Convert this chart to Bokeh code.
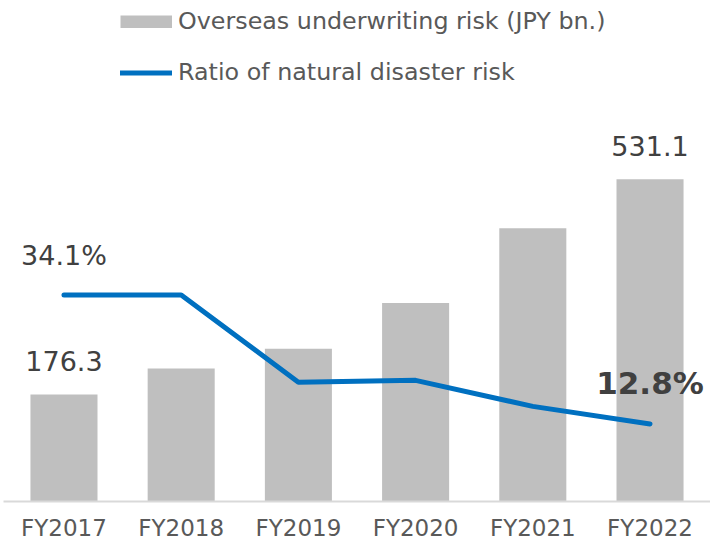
from bokeh.plotting import figure
from bokeh.models import (ColumnDataSource, FactorRange, Range1d,
                          LabelSet, Legend, LegendItem)
from bokeh.core.properties import value
from bokeh.embed import file_html
from bokeh.resources import INLINE

# ---- data ----
categories = ["FY2017", "FY2018", "FY2019", "FY2020", "FY2021", "FY2022"]
underwriting_risk = [176.3, 219.0, 251.6, 327.0, 450.0, 531.1]   # JPY bn.
disaster_ratio = [34.1, 34.1, 19.7, 20.0, 15.7, 12.8]            # %
bar_name = "Overseas underwriting risk (JPY bn.)"
line_name = "Ratio of natural disaster risk"
labelled = [0, len(categories) - 1]   # only first and last points are labelled

FONT = "DejaVu Sans"
BAR_C = "#BFBFBF"
LINE_C = "#0070C0"

src = ColumnDataSource(dict(cat=categories, risk=underwriting_risk, ratio=disaster_ratio))

p = figure(width=710, height=543, output_backend="svg", toolbar_location=None,
           x_range=FactorRange(factors=categories, range_padding=0.016,
                               range_padding_units="absolute"),
           y_range=Range1d(0, 825.4), min_border=0, min_border_left=3,
           outline_line_color=None)
p.extra_y_ranges = {"pct": Range1d(0, 82.7)}

bars = p.vbar(x="cat", top="risk", width=0.572, source=src,
              fill_color=BAR_C, line_color=None)
line = p.line(x="cat", y="ratio", source=src, y_range_name="pct",
              line_color=LINE_C, line_width=5, line_cap="round", line_join="round")

# legend swatch for the bars (a thick butt-capped line draws a flat rectangle)
swatch = p.line(x=categories, y=[float("nan")] * len(categories),
                line_color=BAR_C, line_width=13, line_cap="butt")

legend = Legend(items=[LegendItem(label=bar_name, renderers=[swatch]),
                       LegendItem(label=line_name, renderers=[line])],
                location=(117, 415), orientation="vertical", margin=0, padding=0,
                spacing=23, glyph_width=52, glyph_height=13, label_standoff=6,
                label_text_font=FONT, label_text_font_size="23.8px",
                label_text_color="#595959", background_fill_alpha=0,
                border_line_color=None)
p.add_layout(legend)

# data labels
lab_bar = ColumnDataSource(dict(cat=[categories[i] for i in labelled],
                                v=[underwriting_risk[i] for i in labelled],
                                t=[f"{underwriting_risk[i]:.1f}" for i in labelled]))
p.add_layout(LabelSet(x="cat", y="v", text="t", source=lab_bar, text_align="center",
                      text_baseline="alphabetic", y_offset=23, text_font=value(FONT),
                      text_font_size="27px", text_color="#404040"))

i0, i1 = labelled
lab_first = ColumnDataSource(dict(cat=[categories[i0]], v=[disaster_ratio[i0]],
                                  t=[f"{disaster_ratio[i0]:.1f}%"]))
lab_last = ColumnDataSource(dict(cat=[categories[i1]], v=[disaster_ratio[i1]],
                                 t=[f"{disaster_ratio[i1]:.1f}%"]))
p.add_layout(LabelSet(x="cat", y="v", text="t", source=lab_first, y_range_name="pct",
                      text_align="center", text_baseline="alphabetic", y_offset=30,
                      text_font=value(FONT), text_font_size="27px", text_color="#404040"))
p.add_layout(LabelSet(x="cat", y="v", text="t", source=lab_last, y_range_name="pct",
                      text_align="center", text_baseline="alphabetic", y_offset=30,
                      text_font=value(FONT), text_font_size="31px",
                      text_font_style="bold", text_color="#404040"))

# axes
p.yaxis.visible = False
p.xgrid.visible = False
p.ygrid.visible = False
xa = p.xaxis[0]
xa.axis_line_color = "#D9D9D9"
xa.axis_line_width = 2
xa.major_tick_line_color = None
xa.minor_tick_line_color = None
xa.major_tick_out = 0
xa.major_tick_in = 0
xa.major_label_standoff = 13
xa.major_label_text_font = FONT
xa.major_label_text_font_size = "23px"
xa.major_label_text_color = "#595959"

open("out.html", "w").write(file_html(p, INLINE))
